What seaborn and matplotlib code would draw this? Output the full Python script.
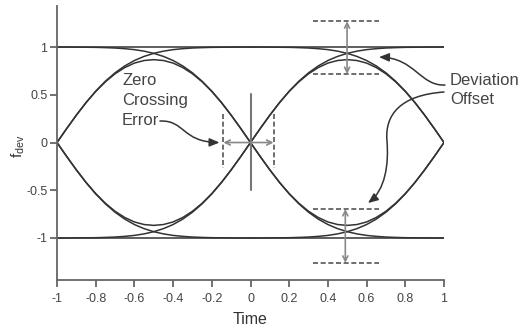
import numpy as np
import pandas as pd
import matplotlib
matplotlib.use("Agg")
import matplotlib.pyplot as plt
import seaborn as sns
from matplotlib.patches import FancyArrowPatch
from matplotlib.path import Path

# ---- data ----
# position inside one bit period (fraction of the period from its start)
offset = [0.00, 0.05, 0.10, 0.15, 0.20, 0.25, 0.30, 0.35, 0.40, 0.45, 0.50,
          0.55, 0.60, 0.65, 0.70, 0.75, 0.80, 0.85, 0.90, 0.95, 1.00]
# transition leaving a zero crossing toward a full deviation level
transition = [0.000, 0.146, 0.287, 0.419, 0.538, 0.642, 0.730, 0.802, 0.859, 0.902, 0.934,
              0.957, 0.973, 0.983, 0.990, 0.994, 0.997, 0.998, 0.999, 1.000, 1.000]
# isolated symbol (zero crossing on both sides)
bump = [0.000, 0.146, 0.286, 0.417, 0.535, 0.636, 0.720, 0.785, 0.832, 0.859, 0.868,
        0.859, 0.832, 0.785, 0.720, 0.636, 0.535, 0.417, 0.286, 0.146, 0.000]
period_start = [-1.0, 0.0]
levels = [1.0, -1.0]
flat_t = [-1.0, 1.0]

xticks = [-1, -0.8, -0.6, -0.4, -0.2, 0, 0.2, 0.4, 0.6, 0.8, 1]
xticklabels = ["-1", "-0.8", "-0.6", "-0.4", "-0.2", "0", "0.2", "0.4", "0.6", "0.8", "1"]
yticks = [-1, -0.5, 0, 0.5, 1]
yticklabels = ["-1", "-0.5", "0", "0.5", "1"]

# ---- build the eye-diagram traces ----
rows = []
cid = 0
for s in levels:
    for t in flat_t:
        rows.append((cid, t, s))
    cid += 1
    for p in period_start:
        for shape in (transition, transition[::-1], bump):
            for d, v in zip(offset, shape):
                rows.append((cid, p + d, s * v))
            cid += 1
df = pd.DataFrame(rows, columns=["curve", "t", "f"])

sns.set_style("ticks")
plt.rcParams["font.family"] = ["Liberation Sans", "DejaVu Sans"]
plt.rcParams["axes.unicode_minus"] = False

fig = plt.figure(figsize=(5.22, 3.29), dpi=100)
ax = fig.add_axes([57 / 522, 1 - 280 / 329, 387 / 522, 274 / 329])

sns.lineplot(data=df, x="t", y="f", units="curve", estimator=None, sort=False,
             color="#333333", lw=1.1, legend=False, ax=ax)

ax.set_xlim(-1, 1)
ax.set_ylim(-1.44, 1.43)
ax.set_xticks(xticks)
ax.set_xticklabels(xticklabels)
ax.set_yticks(yticks)
ax.set_yticklabels(yticklabels)
sns.despine(ax=ax)
for sp in ("left", "bottom"):
    ax.spines[sp].set_color("#666666")
    ax.spines[sp].set_linewidth(1.3)
ax.tick_params(axis="both", colors="#666666", width=1.3, length=5,
               labelcolor="#444444", labelsize=9)
ax.tick_params(axis="x", pad=4)
ax.tick_params(axis="y", pad=2)

ax.set_xlabel("Time", fontsize=11.5, color="#333333")
ax.xaxis.set_label_coords(0.5, -0.115)
ax.set_ylabel("f$_{\\mathregular{dev}}$", fontsize=11, color="#333333")
ax.yaxis.set_label_coords(-0.078, 0.49)

# ---- annotations ----
dash_kw = dict(color="#555555", lw=1.2, dashes=(3, 1.6), clip_on=False)
dbl_kw = dict(arrowstyle="<->", color="#888888", lw=1.2, shrinkA=0, shrinkB=0,
              mutation_scale=9)

# zero crossing error
ax.plot([-0.142, -0.142], [0.30, -0.27], **dash_kw)
ax.plot([0.121, 0.121], [0.30, -0.27], **dash_kw)
ax.plot([0, 0], [0.51, -0.50], color="#777777", lw=1.5)
ax.annotate("", xy=(0.119, 0), xytext=(-0.140, 0), arrowprops=dbl_kw)

# deviation offsets
for top, bot, xa in ((1.27, 0.717, 0.499), (-0.696, -1.26, 0.49)):
    ax.plot([0.323, 0.664], [top, top], **dash_kw)
    ax.plot([0.323, 0.664], [bot, bot], **dash_kw)
    ax.annotate("", xy=(xa, bot), xytext=(xa, top), arrowprops=dbl_kw)

txt_kw = dict(fontsize=12, color="#444444", linespacing=1.4, clip_on=False)
ax.text(-0.664, 0.44, "Zero\nCrossing\nError", ha="left", va="center", **txt_kw)
ax.text(1.031, 0.55, "Deviation\nOffset", ha="left", va="center", **txt_kw)

arrow_style = "-|>,head_length=0.6,head_width=0.25"
curved = [
    [(-0.468, 0.225), (-0.339, 0.236), (-0.354, 0.005), (-0.160, 0.0)],
    [(1.005, 0.602), (0.876, 0.592), (0.850, 0.885), (0.664, 0.895)],
    [(1.000, 0.529), (0.773, 0.497), (0.695, 0.288), (0.705, 0.026),
     (0.716, -0.236), (0.695, -0.497), (0.607, -0.634)],
]
for verts in curved:
    codes = [Path.MOVETO] + [Path.CURVE4] * (len(verts) - 1)
    arr = FancyArrowPatch(path=Path(verts, codes), arrowstyle=arrow_style,
                          mutation_scale=10, color="#333333", lw=1.1,
                          transform=ax.transData, clip_on=False)
    ax.add_patch(arr)

fig.savefig("out.png", dpi=100)
